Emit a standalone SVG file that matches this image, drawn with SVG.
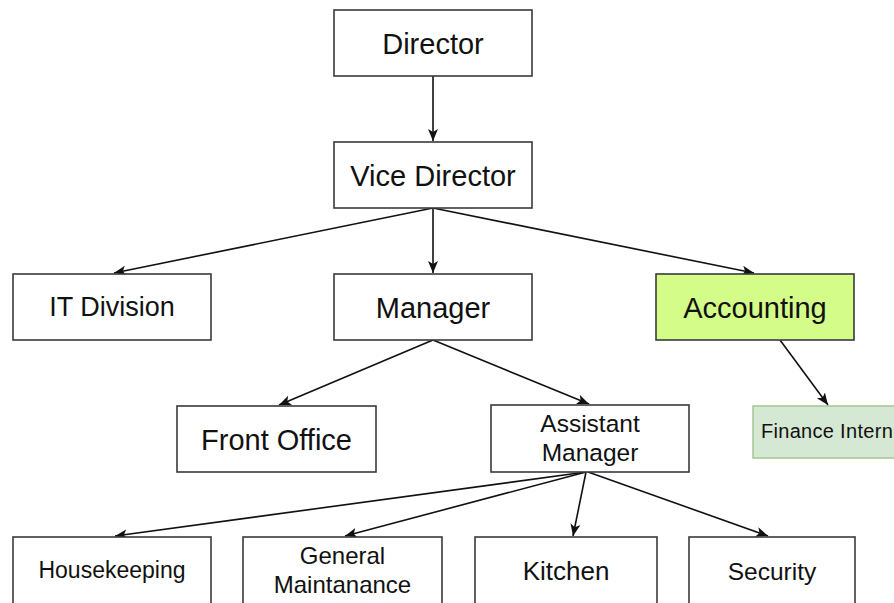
<svg xmlns="http://www.w3.org/2000/svg" width="894" height="603" viewBox="0 0 894 603">
<style>
.box{fill:#ffffff;stroke:#3a3a3a;stroke-width:1.6}
.acc{fill:#d4fc88;stroke:#3a3a3a;stroke-width:1.6}
.intern{fill:#d5e8d4;stroke:#9bc48a;stroke-width:1.4}
text{font-family:"Liberation Sans",Arial,sans-serif;fill:#111;text-anchor:middle}
.edge{stroke:#111;stroke-width:1.6;fill:none;marker-end:url(#arr)}
</style>
<defs>
<marker id="arr" markerUnits="userSpaceOnUse" markerWidth="13" markerHeight="11" refX="12" refY="5" orient="auto">
<path d="M0,0 L12,5 L0,10 L3,5 Z" fill="#111"/>
</marker>
</defs>
<rect width="894" height="603" fill="#ffffff"/>
<g id="connectors">
<line class="edge" x1="433" y1="76" x2="433" y2="141"/>
<line class="edge" x1="433" y1="208" x2="114" y2="273"/>
<line class="edge" x1="433" y1="208" x2="433" y2="273"/>
<line class="edge" x1="433" y1="208" x2="754" y2="273"/>
<line class="edge" x1="433" y1="340" x2="279" y2="405"/>
<line class="edge" x1="433" y1="340" x2="589" y2="404"/>
<line class="edge" x1="780" y1="340" x2="828" y2="405"/>
<line class="edge" x1="586" y1="472" x2="115" y2="536"/>
<line class="edge" x1="586" y1="472" x2="345" y2="536"/>
<line class="edge" x1="586" y1="472" x2="573" y2="536"/>
<line class="edge" x1="588" y1="472" x2="768" y2="536"/>
</g>
<g id="director"><rect class="box" x="334" y="10" width="198" height="66"/><text x="433" y="53.5" font-size="29">Director</text></g>
<g id="vice-director"><rect class="box" x="334" y="142" width="198" height="66"/><text x="433" y="185.5" font-size="29">Vice Director</text></g>
<g id="it-division"><rect class="box" x="13" y="274" width="198" height="66"/><text x="112" y="316" font-size="27">IT Division</text></g>
<g id="manager"><rect class="box" x="334" y="274" width="198" height="66"/><text x="433" y="317.5" font-size="29">Manager</text></g>
<g id="accounting"><rect class="acc" x="656" y="274" width="198" height="66"/><text x="755" y="317.5" font-size="29">Accounting</text></g>
<g id="front-office"><rect class="box" x="177" y="406" width="199" height="66"/><text x="276.5" y="449.5" font-size="29">Front Office</text></g>
<g id="assistant-manager"><rect class="box" x="491" y="405" width="198" height="67"/><text x="590" y="432" font-size="24.5">Assistant</text><text x="590" y="461" font-size="24.5">Manager</text></g>
<g id="finance-intern"><rect class="intern" x="753" y="406" width="180" height="52"/><text x="761" y="438" font-size="20" letter-spacing="0.3" style="text-anchor:start">Finance Intern</text></g>
<g id="housekeeping"><rect class="box" x="13" y="537" width="198" height="70"/><text x="112" y="578" font-size="23">Housekeeping</text></g>
<g id="general-maintanance"><rect class="box" x="243" y="537" width="199" height="70"/><text x="342.5" y="564" font-size="24">General</text><text x="342.5" y="593" font-size="24">Maintanance</text></g>
<g id="kitchen"><rect class="box" x="475" y="537" width="182" height="70"/><text x="566" y="580" font-size="26">Kitchen</text></g>
<g id="security"><rect class="box" x="689" y="537" width="166" height="70"/><text x="772" y="580" font-size="24.5">Security</text></g>
</svg>
